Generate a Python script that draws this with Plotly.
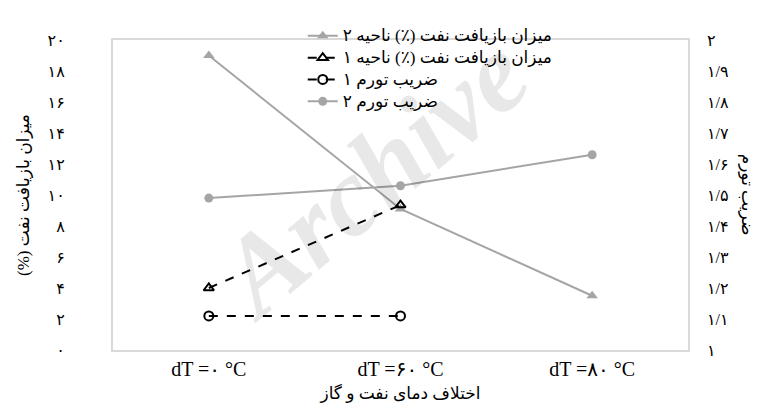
import plotly.graph_objects as go

# categories (x axis) and series values
categories = ["dT =۰ °C", "dT =۶۰ °C", "dT =۸۰ °C"]
recovery_zone2 = [19.0, 9.1, 3.5]        # left axis, gray triangles
recovery_zone1 = [4.0, 9.35]             # left axis, black dashed triangles
swelling_zone1 = [1.11, 1.11]            # right axis, black dashed circles
swelling_zone2 = [1.49, 1.53, 1.63]      # right axis, gray circles

left_ticks = [0, 2, 4, 6, 8, 10, 12, 14, 16, 18, 20]
left_ticktext = ["۰", "۲", "۴", "۶", "۸", "۱۰", "۱۲", "۱۴", "۱۶", "۱۸", "۲۰"]
right_ticks = [1, 1.1, 1.2, 1.3, 1.4, 1.5, 1.6, 1.7, 1.8, 1.9, 2]
right_ticktext = ["۱", "۱/۱", "۱/۲", "۱/۳", "۱/۴", "۱/۵", "۱/۶", "۱/۷", "۱/۸", "۱/۹", "۲"]

names = [
    "میزان بازیافت نفت (٪) ناحیه ۲",
    "میزان بازیافت نفت (٪) ناحیه ۱",
    "ضریب تورم ۱",
    "ضریب تورم ۲",
]

gray = "#a5a5a5"
font_family = "Liberation Serif, DejaVu Sans, serif"


def legend_label(s):
    # bigger glyphs than the legend row spacing would give
    return '<span style="font-size:17px">' + s + '</span>'


fig = go.Figure()

fig.add_trace(go.Scatter(x=categories, y=recovery_zone2, name=legend_label(names[0]), mode="lines+markers",
                         line=dict(color=gray, width=2),
                         marker=dict(symbol="triangle-up", size=10, color=gray)))
fig.add_trace(go.Scatter(x=categories[:2], y=recovery_zone1, name=legend_label(names[1]), mode="lines+markers",
                         line=dict(color="black", width=2, dash="dash"),
                         marker=dict(symbol="triangle-up-open", size=9, color="black",
                                     line=dict(width=2, color="black"))))
fig.add_trace(go.Scatter(x=categories[:2], y=swelling_zone1, name=legend_label(names[2]), mode="lines+markers",
                         yaxis="y2",
                         line=dict(color="black", width=2, dash="dash"),
                         marker=dict(symbol="circle-open", size=9, color="black",
                                     line=dict(width=2, color="black"))))
fig.add_trace(go.Scatter(x=categories, y=swelling_zone2, name=legend_label(names[3]), mode="lines+markers",
                         yaxis="y2",
                         line=dict(color=gray, width=2),
                         marker=dict(symbol="circle", size=9, color=gray)))

fig.update_layout(
    width=777, height=410,
    margin=dict(l=105, r=97, t=20, b=68),
    paper_bgcolor="white", plot_bgcolor="white",
    font=dict(family=font_family, size=16, color="black"),
    showlegend=True,
    legend=dict(x=0.33, y=1.065, xanchor="left", yanchor="top",
                bgcolor="rgba(0,0,0,0)", font=dict(size=14.5),
                tracegroupgap=0, itemwidth=30),
    xaxis=dict(type="category", range=[-0.5, 2.5], showgrid=False,
               showline=True, mirror=True, linecolor="#d9d9d9", linewidth=2,
               ticks="", tickfont=dict(size=20, family=font_family),
               title=dict(text="اختلاف دمای نفت و گاز", standoff=8,
                          font=dict(size=17))),
    yaxis=dict(range=[0, 20], tickvals=left_ticks, ticktext=left_ticktext,
               showgrid=False, zeroline=False,
               showline=True, mirror=True, linecolor="#d9d9d9", linewidth=2,
               ticks="", ticklabelstandoff=43, tickfont=dict(size=16),
               title=dict(text="\u202bمیزان بازیافت نفت (%)\u202c", standoff=14,
                          font=dict(size=17))),
    yaxis2=dict(range=[1, 2], tickvals=right_ticks, ticktext=right_ticktext,
                overlaying="y", side="right", showgrid=False, zeroline=False,
                showline=False, ticks="", ticklabelstandoff=18,
                tickfont=dict(size=16)),
    annotations=[
        dict(text="ضریب تورم", textangle=90, x=1.125, y=0.5,
             xref="paper", yref="paper", showarrow=False,
             font=dict(size=17)),
        dict(text="<b><i>Archive</i></b>", textangle=-40, x=0.45, y=0.56,
             xref="paper", yref="paper", showarrow=False,
             font=dict(size=112, family="Liberation Serif", color="rgba(0,0,0,0.09)")),
    ],
)

fig.write_html("out.html")
